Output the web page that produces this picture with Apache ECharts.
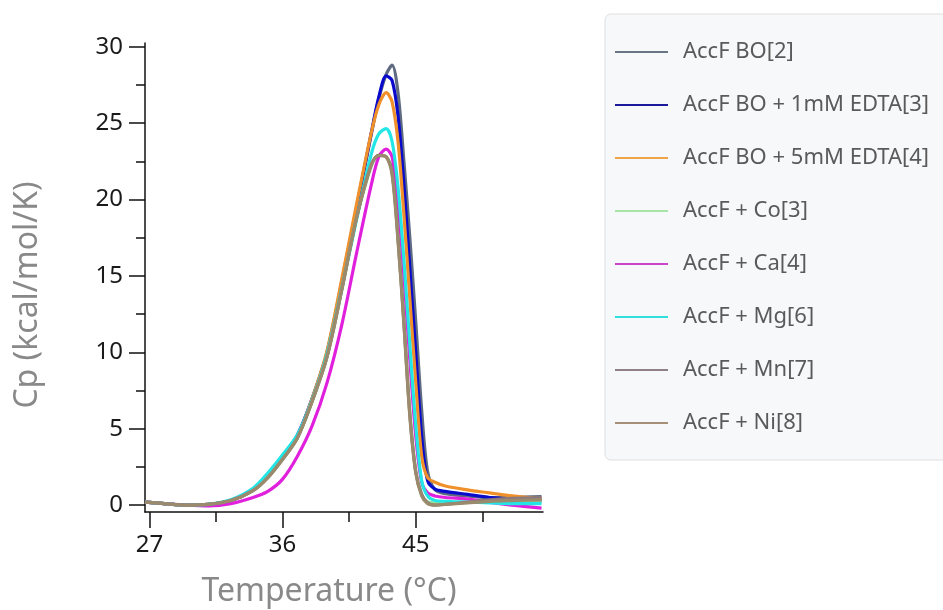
<!DOCTYPE html>
<html><head><meta charset="utf-8">
<script src="https://cdn.jsdelivr.net/npm/echarts@6/dist/echarts.min.js"></script>
<style>html,body{margin:0;padding:0;background:#fff}#c{width:943px;height:610px}</style>
</head><body><div id="c"></div>
<script>
const temps   = [26.7, 28, 29.5, 31, 32.5, 34, 35, 36, 37, 38, 39, 40, 41, 42, 42.5, 43, 43.4, 43.8, 44.2, 44.6, 45, 45.4, 45.8, 46.3, 47, 48.5, 50, 51.5, 53.5];
const names = ['AccF BO[2]','AccF BO + 1mM EDTA[3]','AccF BO + 5mM EDTA[4]','AccF + Co[3]','AccF + Ca[4]','AccF + Mg[6]','AccF + Mn[7]','AccF + Ni[8]'];
const cpBO    = [0.2, 0.1, 0.0, 0.05, 0.3, 1.0, 1.9, 3.1, 4.5, 6.9, 9.9, 14.5, 19.4, 24.3, 26.6, 28.2, 28.8, 27.0, 22.5, 17.5, 12.0, 6.2, 2.2, 1.0, 0.75, 0.6, 0.5, 0.5, 0.55];
const cpEDTA1 = [0.2, 0.1, 0.0, 0.05, 0.3, 1.05, 2.0, 3.2, 4.6, 7.0, 10.0, 14.6, 19.5, 24.4, 26.7, 28.1, 27.8, 25.5, 21.0, 15.5, 10.0, 4.5, 1.6, 1.05, 0.9, 0.7, 0.5, 0.4, 0.3];
const cpEDTA5 = [0.2, 0.1, 0.0, 0.05, 0.3, 1.0, 1.9, 3.1, 4.5, 7.0, 10.1, 14.8, 19.7, 24.4, 26.2, 27.0, 26.4, 23.8, 19.0, 13.5, 8.0, 3.2, 1.8, 1.5, 1.25, 1.0, 0.8, 0.6, 0.4];
const cpCo    = [0.2, 0.1, 0.0, 0.05, 0.3, 0.95, 1.8, 3.0, 4.4, 6.8, 9.7, 14.1, 18.8, 22.2, 22.9, 22.8, 21.8, 17.5, 12.0, 6.0, 2.2, 0.7, 0.2, 0.15, 0.15, 0.2, 0.2, 0.2, 0.2];
const cpCa    = [0.2, 0.1, 0.0, -0.05, 0.1, 0.5, 0.9, 1.7, 3.2, 5.2, 8.0, 11.8, 16.5, 21.0, 22.8, 23.3, 22.8, 19.8, 15.0, 9.5, 4.5, 1.5, 0.8, 0.6, 0.5, 0.4, 0.2, 0.0, -0.2];
const cpMg    = [0.2, 0.1, 0.0, 0.05, 0.35, 1.1, 2.1, 3.3, 4.6, 6.9, 9.9, 14.2, 18.7, 23.0, 24.3, 24.65, 23.8, 20.8, 16.0, 10.5, 5.2, 1.6, 0.6, 0.3, 0.25, 0.2, 0.15, 0.1, 0.1];
const cpMn    = [0.2, 0.1, 0.0, 0.05, 0.3, 0.95, 1.8, 3.0, 4.4, 6.8, 9.7, 14.1, 18.8, 22.3, 22.9, 22.8, 21.8, 17.5, 12.0, 6.0, 2.2, 0.7, 0.15, 0.0, 0.05, 0.2, 0.35, 0.45, 0.5];
const cpNi    = [0.2, 0.1, 0.0, 0.05, 0.3, 0.95, 1.8, 3.0, 4.4, 6.8, 9.7, 14.1, 18.8, 22.3, 22.9, 22.8, 21.6, 17.3, 11.8, 5.8, 2.1, 0.6, 0.1, 0.0, 0.05, 0.15, 0.25, 0.3, 0.35];
const majorX = [27, 36, 45];
const minorX = [31.5, 40.5, 49.5];
const majorY = [0, 5, 10, 15, 20, 25, 30];
const minorY = [2.5, 7.5, 12.5, 17.5, 22.5, 27.5];
const lineColors = ['#5f6b80', '#0a0acc', '#f0902a', '#98e098', '#e020dc', '#22e6e6', '#8a7a7e', '#9c8a6c'];
const legendColors = ['#6a7482', '#1a1a9a', '#f0a448', '#a8e4a8', '#cc44cc', '#30dede', '#8e8084', '#a89078'];
const allCp = [cpBO, cpEDTA1, cpEDTA5, cpCo, cpCa, cpMg, cpMn, cpNi];

const FONT = 'Noto Sans';
const chart = echarts.init(document.getElementById('c'), null, {renderer: 'canvas'});
const axisCommon = {type: 'value', splitLine: {show: false}};
chart.setOption({
  animation: false,
  backgroundColor: '#fff',
  grid: {left: 145, right: 400, top: 43, bottom: 98, containLabel: false, outerBoundsMode: 'none'},
  xAxis: [
    Object.assign({}, axisCommon, {min: 26.7, max: 53.6, position: 'bottom',
      axisLine: {show: true, onZero: false, lineStyle: {color: '#111', width: 1.5}},
      axisTick: {show: true, customValues: majorX, length: 16, lineStyle: {color: '#111', width: 1.5}},
      axisLabel: {customValues: majorX, margin: 21, fontSize: 24, color: '#1a1a1a', fontFamily: FONT}}),
    Object.assign({}, axisCommon, {min: 26.7, max: 53.6, position: 'bottom',
      axisLine: {show: false, onZero: false},
      axisTick: {show: true, customValues: minorX, length: 10, lineStyle: {color: '#111', width: 1.5}},
      axisLabel: {show: false}})
  ],
  yAxis: [
    Object.assign({}, axisCommon, {min: -0.45, max: 30.25, position: 'left',
      axisLine: {show: true, onZero: false, lineStyle: {color: '#111', width: 1.5}},
      axisTick: {show: true, customValues: majorY, length: 16, lineStyle: {color: '#111', width: 1.5}},
      axisLabel: {customValues: majorY, margin: 22, fontSize: 24, color: '#1a1a1a', fontFamily: FONT}}),
    Object.assign({}, axisCommon, {min: -0.45, max: 30.25, position: 'left',
      axisLine: {show: false, onZero: false},
      axisTick: {show: true, customValues: minorY, length: 9, lineStyle: {color: '#111', width: 1.5}},
      axisLabel: {show: false}})
  ],
  legend: {
    orient: 'vertical', left: 605, top: 14,
    padding: [27, 40, 26, 10],
    itemGap: 31.0, itemWidth: 53, itemHeight: 2, icon: 'rect',
    backgroundColor: '#f7f8f9', borderColor: '#dedfe1', borderWidth: 1, borderRadius: 6,
    textStyle: {fontSize: 22, color: '#5a5a5a', fontFamily: FONT, padding: [0, 0, 0, 10]},
    data: names.map((n, i) => ({name: n, itemStyle: {color: legendColors[i]}}))
  },
  graphic: [
    {type: 'text', x: 28, y: 295, rotation: Math.PI / 2,
      style: {text: 'Cp (kcal/mol/K)', fontSize: 32, fill: '#898989', fontFamily: FONT, align: 'center', verticalAlign: 'middle'}},
    {type: 'text', x: 329, y: 592,
      style: {text: 'Temperature (°C)', fontSize: 32, fill: '#898989', fontFamily: FONT, align: 'center', verticalAlign: 'middle'}}
  ],
  series: names.map((n, i) => ({
    name: n, type: 'line', xAxisIndex: 0, yAxisIndex: 0,
    data: temps.map((t, k) => [t, allCp[i][k]]),
    smooth: 0.3, symbol: 'none', showSymbol: false,
    lineStyle: {color: lineColors[i], width: 3.2},
    itemStyle: {color: lineColors[i]}
  }))
});
</script></body></html>
